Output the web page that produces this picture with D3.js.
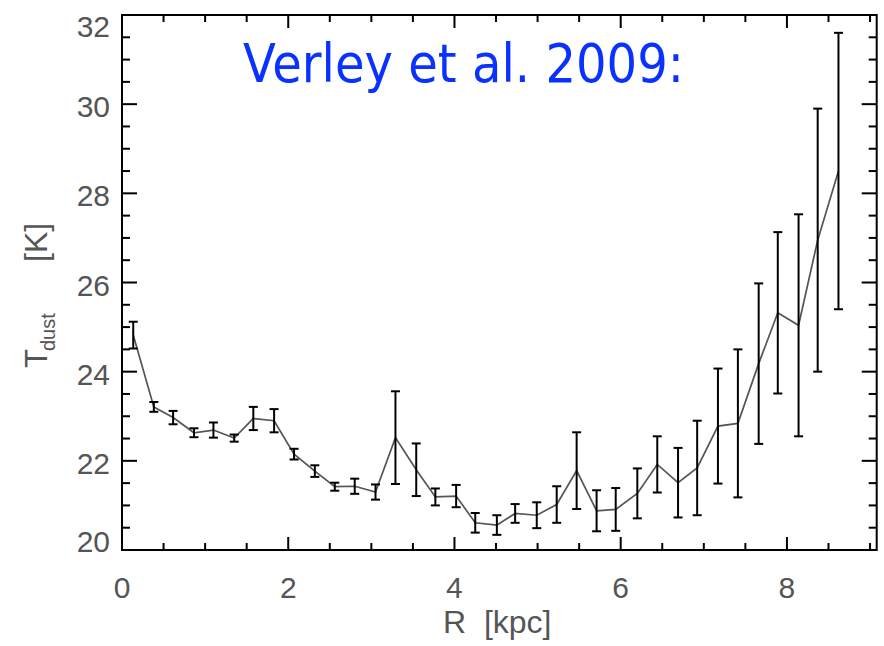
<!DOCTYPE html>
<html>
<head>
<meta charset="utf-8">
<script src="https://cdn.jsdelivr.net/npm/d3@7"></script>
<style>
  html, body { margin: 0; padding: 0; background: #fff; }
  svg { display: block; }
  text { white-space: pre; }
</style>
</head>
<body>
<svg id="chart" width="884" height="646"></svg>
<script>
// Radial dust temperature profile
const radius = [0.135, 0.383, 0.615, 0.866, 1.10, 1.35, 1.58, 1.83, 2.07, 2.32, 2.56, 2.80,
                3.05, 3.29, 3.54, 3.77, 4.02, 4.25, 4.51, 4.73, 4.99, 5.23, 5.47, 5.71,
                5.94, 6.20, 6.44, 6.69, 6.92, 7.17, 7.41, 7.66, 7.89, 8.14, 8.37, 8.62];
const tdust  = [24.82, 23.21, 22.97, 22.63, 22.69, 22.51, 22.95, 22.90, 22.15, 21.77, 21.42, 21.43,
                21.30, 22.52, 21.80, 21.19, 21.21, 20.61, 20.56, 20.82, 20.78, 21.02, 21.78, 20.88,
                20.91, 21.27, 21.92, 21.51, 21.84, 22.78, 22.84, 24.18, 25.32, 25.04, 26.95, 28.50];
const tdustErr = [0.30, 0.11, 0.15, 0.10, 0.17, 0.08, 0.26, 0.26, 0.12, 0.13, 0.09, 0.17,
                  0.17, 1.04, 0.59, 0.19, 0.25, 0.22, 0.22, 0.21, 0.29, 0.41, 0.86, 0.46,
                  0.48, 0.56, 0.63, 0.78, 1.06, 1.29, 1.66, 1.80, 1.81, 2.49, 2.95, 3.10];

const xMajorTicks = [0, 2, 4, 6, 8];
const yMajorTicks = [20, 22, 24, 26, 28, 30, 32];
const titleText = "Verley et al. 2009:";
const xLabel = "R  [kpc]";

const svg = d3.select("#chart");
const plotL = 122, plotR = 876.7, plotT = 15, plotB = 550;

const x = d3.scaleLinear().domain([0, 9.08]).range([plotL, plotR]);
const y = d3.scaleLinear().domain([20, 32]).range([plotB, plotT]);

const xMinor = d3.range(0, 9.01, 0.5);
const yMinor = d3.range(20, 32.01, 0.5);
const isMajor = (v, arr) => arr.some(a => Math.abs(a - v) < 1e-6);

// frame
svg.append("rect")
  .attr("x", plotL).attr("y", plotT)
  .attr("width", plotR - plotL).attr("height", plotB - plotT)
  .attr("fill", "none").attr("stroke", "#000").attr("stroke-width", 2);

// ticks on all four sides
const tk = svg.append("g").attr("stroke", "#000").attr("stroke-width", 2);
xMinor.forEach(v => {
  const len = isMajor(v, xMajorTicks) ? 13 : 7;
  tk.append("line").attr("x1", x(v)).attr("x2", x(v)).attr("y1", plotB).attr("y2", plotB - len);
  tk.append("line").attr("x1", x(v)).attr("x2", x(v)).attr("y1", plotT).attr("y2", plotT + len);
});
yMinor.forEach(v => {
  const len = isMajor(v, yMajorTicks) ? 15 : 8;
  tk.append("line").attr("y1", y(v)).attr("y2", y(v)).attr("x1", plotL).attr("x2", plotL + len);
  tk.append("line").attr("y1", y(v)).attr("y2", y(v)).attr("x1", plotR).attr("x2", plotR - len);
});

// tick labels
const labelFont = "'Liberation Sans', Arial, sans-serif";
const labelColor = "#555";
svg.append("g").selectAll("text").data(xMajorTicks).join("text")
  .attr("x", d => x(d)).attr("y", 598)
  .attr("text-anchor", "middle")
  .attr("font-family", labelFont).attr("font-size", 30).attr("fill", labelColor)
  .text(d => d);

svg.append("g").selectAll("text").data(yMajorTicks).join("text")
  .attr("x", 110)
  .attr("y", d => Math.min(552, Math.max(37, y(d) + 13)))
  .attr("text-anchor", "end")
  .attr("font-family", labelFont).attr("font-size", 30).attr("fill", labelColor)
  .text(d => d);

// axis titles
svg.append("text")
  .attr("x", 443).attr("y", 633)
  .attr("font-family", labelFont).attr("font-size", 32).attr("fill", labelColor)
  .text(xLabel);

const yt = svg.append("g").attr("transform", "translate(47,0) rotate(-90)")
  .attr("font-family", labelFont).attr("fill", labelColor);
yt.append("text").attr("x", -368).attr("y", 0).attr("font-size", 31).text("T");
yt.append("text").attr("x", -351).attr("y", 8).attr("font-size", 20).text("dust");
yt.append("text").attr("x", -262).attr("y", 0).attr("font-size", 32).text("[K]");

// profile line
const pts = radius.map((r, i) => ({ r, t: tdust[i], e: tdustErr[i] }));
svg.append("path")
  .datum(pts)
  .attr("fill", "none")
  .attr("stroke", "#555")
  .attr("stroke-width", 1.7)
  .attr("d", d3.line().x(d => x(d.r)).y(d => y(d.t)));

// error bars
const eb = svg.append("g").attr("stroke", "#000").attr("stroke-width", 2);
const cap = 4.5;
pts.forEach(d => {
  const cx = x(d.r), y0 = y(d.t - d.e), y1 = y(d.t + d.e);
  eb.append("line").attr("x1", cx).attr("x2", cx).attr("y1", y0).attr("y2", y1);
  eb.append("line").attr("x1", cx - cap).attr("x2", cx + cap).attr("y1", y0).attr("y2", y0);
  eb.append("line").attr("x1", cx - cap).attr("x2", cx + cap).attr("y1", y1).attr("y2", y1);
});

// title
svg.append("text")
  .attr("x", 243).attr("y", 81.7)
  .attr("font-family", "'DejaVu Sans', sans-serif")
  .attr("font-size", 54)
  .attr("textLength", 441)
  .attr("lengthAdjust", "spacingAndGlyphs")
  .attr("fill", "#0a32ff")
  .text(titleText);
</script>
</body>
</html>
